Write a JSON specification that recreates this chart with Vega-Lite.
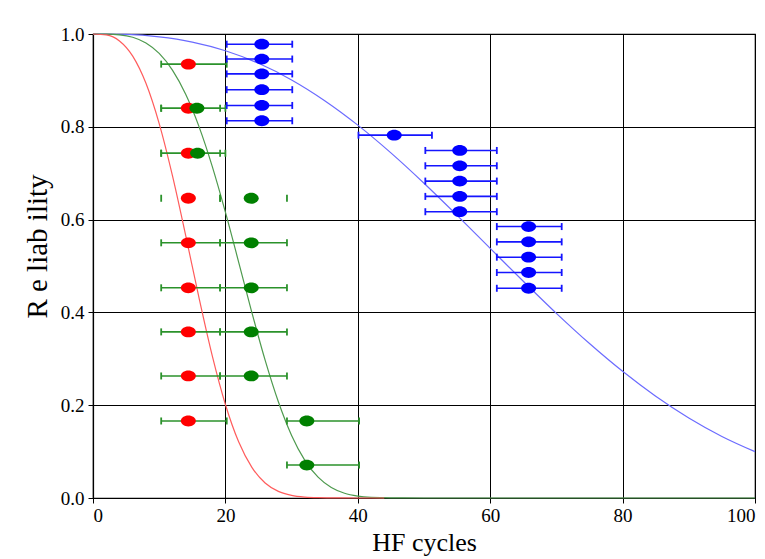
{
  "$schema": "https://vega.github.io/schema/vega-lite/v6.json",
  "width": 662,
  "height": 464,
  "autosize": {"type": "none"},
  "padding": {"left": 93, "top": 34, "right": 10, "bottom": 61},
  "background": "white",
  "config": {
    "font": "Liberation Serif",
    "view": {"stroke": "black", "strokeWidth": 1.2},
    "axis": {
      "gridColor": "black", "gridOpacity": 1, "gridWidth": 1,
      "domainColor": "black", "domainWidth": 1.2,
      "tickColor": "black", "tickWidth": 1,
      "labelFont": "Liberation Serif", "labelFontSize": 19, "labelColor": "black",
      "titleFont": "Liberation Serif", "titleFontSize": 26, "titleFontWeight": "normal", "titleColor": "black"
    }
  },
  "datasets": {
    "curves": [
      {"series": "blue", "x": 0, "r": 1}, {"series": "blue", "x": 5, "r": 0.999}, {"series": "blue", "x": 10, "r": 0.9938},
      {"series": "blue", "x": 15, "r": 0.9826}, {"series": "blue", "x": 20, "r": 0.9639}, {"series": "blue", "x": 25, "r": 0.9368},
      {"series": "blue", "x": 30, "r": 0.901}, {"series": "blue", "x": 35, "r": 0.8563}, {"series": "blue", "x": 40, "r": 0.8036},
      {"series": "blue", "x": 45, "r": 0.7438}, {"series": "blue", "x": 50, "r": 0.6784}, {"series": "blue", "x": 55, "r": 0.6092},
      {"series": "blue", "x": 60, "r": 0.538}, {"series": "blue", "x": 65, "r": 0.4671}, {"series": "blue", "x": 70, "r": 0.398},
      {"series": "blue", "x": 75, "r": 0.3329}, {"series": "blue", "x": 80, "r": 0.273}, {"series": "blue", "x": 85, "r": 0.2193},
      {"series": "blue", "x": 90, "r": 0.1725}, {"series": "blue", "x": 95, "r": 0.1327}, {"series": "blue", "x": 100, "r": 0.0999},
      {"series": "green", "x": 0, "r": 1}, {"series": "green", "x": 2, "r": 0.9998}, {"series": "green", "x": 4, "r": 0.9983},
      {"series": "green", "x": 6, "r": 0.9929}, {"series": "green", "x": 8, "r": 0.9806}, {"series": "green", "x": 10, "r": 0.9581},
      {"series": "green", "x": 12, "r": 0.9221}, {"series": "green", "x": 14, "r": 0.8701}, {"series": "green", "x": 16, "r": 0.801},
      {"series": "green", "x": 18, "r": 0.7153}, {"series": "green", "x": 20, "r": 0.616}, {"series": "green", "x": 22, "r": 0.5085},
      {"series": "green", "x": 24, "r": 0.3997}, {"series": "green", "x": 26, "r": 0.2971}, {"series": "green", "x": 28, "r": 0.2074},
      {"series": "green", "x": 30, "r": 0.1349}, {"series": "green", "x": 32, "r": 0.0812}, {"series": "green", "x": 34, "r": 0.0449},
      {"series": "green", "x": 36, "r": 0.0226}, {"series": "green", "x": 38, "r": 0.0102}, {"series": "green", "x": 40, "r": 0.0042},
      {"series": "green", "x": 42, "r": 0.0015}, {"series": "green", "x": 45, "r": 0.0003}, {"series": "green", "x": 50, "r": 0},
      {"series": "green", "x": 100, "r": 0},
      {"series": "red", "x": 0, "r": 1}, {"series": "red", "x": 2, "r": 0.998}, {"series": "red", "x": 4, "r": 0.9851},
      {"series": "red", "x": 6, "r": 0.9524}, {"series": "red", "x": 8, "r": 0.8938}, {"series": "red", "x": 10, "r": 0.8069},
      {"series": "red", "x": 12, "r": 0.6947}, {"series": "red", "x": 14, "r": 0.5659}, {"series": "red", "x": 16, "r": 0.4322},
      {"series": "red", "x": 18, "r": 0.3072}, {"series": "red", "x": 20, "r": 0.2015}, {"series": "red", "x": 22, "r": 0.121},
      {"series": "red", "x": 24, "r": 0.066}, {"series": "red", "x": 26, "r": 0.0324}, {"series": "red", "x": 28, "r": 0.0143},
      {"series": "red", "x": 30, "r": 0.0056}, {"series": "red", "x": 32, "r": 0.0019}, {"series": "red", "x": 34, "r": 0.0006},
      {"series": "red", "x": 37, "r": 0.0001}, {"series": "red", "x": 40, "r": 0}, {"series": "red", "x": 44, "r": 0}
    ],
    "bars": [
      {"set": "A", "y": 0.935, "x": 10.3, "x2": 20.2},
      {"set": "A", "y": 0.84, "x": 10.3, "x2": 19.2}, {"set": "A", "y": 0.84, "x": 10.3, "x2": 20.0},
      {"set": "A", "y": 0.743, "x": 10.3, "x2": 19.2}, {"set": "A", "y": 0.743, "x": 10.3, "x2": 20.0},
      {"set": "A", "y": 0.646, "x": 10.3, "x2": 19.2}, {"set": "A", "y": 0.646, "x": 19.2, "x2": 29.3},
      {"set": "A", "y": 0.55, "x": 10.3, "x2": 19.2}, {"set": "A", "y": 0.55, "x": 19.2, "x2": 29.3},
      {"set": "A", "y": 0.453, "x": 10.3, "x2": 19.2}, {"set": "A", "y": 0.453, "x": 19.2, "x2": 29.3},
      {"set": "A", "y": 0.358, "x": 10.3, "x2": 19.2}, {"set": "A", "y": 0.358, "x": 19.2, "x2": 29.3},
      {"set": "A", "y": 0.263, "x": 10.3, "x2": 19.2}, {"set": "A", "y": 0.263, "x": 19.2, "x2": 29.3},
      {"set": "A", "y": 0.166, "x": 10.3, "x2": 20.2}, {"set": "A", "y": 0.166, "x": 29.3, "x2": 40.2},
      {"set": "A", "y": 0.071, "x": 29.3, "x2": 40.2},
      {"set": "B", "y": 0.978, "x": 20.2, "x2": 30.1}, {"set": "B", "y": 0.946, "x": 20.2, "x2": 30.1},
      {"set": "B", "y": 0.914, "x": 20.2, "x2": 30.1}, {"set": "B", "y": 0.88, "x": 20.2, "x2": 30.1},
      {"set": "B", "y": 0.846, "x": 20.2, "x2": 30.1}, {"set": "B", "y": 0.813, "x": 20.2, "x2": 30.1},
      {"set": "B", "y": 0.782, "x": 40.1, "x2": 51.2},
      {"set": "B", "y": 0.749, "x": 50.2, "x2": 61.0}, {"set": "B", "y": 0.716, "x": 50.2, "x2": 61.0},
      {"set": "B", "y": 0.683, "x": 50.2, "x2": 61.0}, {"set": "B", "y": 0.65, "x": 50.2, "x2": 61.0},
      {"set": "B", "y": 0.617, "x": 50.2, "x2": 61.0},
      {"set": "B", "y": 0.585, "x": 61.0, "x2": 70.8}, {"set": "B", "y": 0.552, "x": 61.0, "x2": 70.8},
      {"set": "B", "y": 0.519, "x": 61.0, "x2": 70.8}, {"set": "B", "y": 0.486, "x": 61.0, "x2": 70.8},
      {"set": "B", "y": 0.452, "x": 61.0, "x2": 70.8}
    ],
    "points": [
      {"series": "green", "x": 15.7, "y": 0.84}, {"series": "green", "x": 15.8, "y": 0.743},
      {"series": "green", "x": 23.9, "y": 0.646}, {"series": "green", "x": 23.9, "y": 0.55},
      {"series": "green", "x": 23.9, "y": 0.453}, {"series": "green", "x": 23.9, "y": 0.358},
      {"series": "green", "x": 23.9, "y": 0.263}, {"series": "green", "x": 32.3, "y": 0.166},
      {"series": "green", "x": 32.3, "y": 0.071},
      {"series": "red", "x": 14.4, "y": 0.935}, {"series": "red", "x": 14.4, "y": 0.84},
      {"series": "red", "x": 14.4, "y": 0.743}, {"series": "red", "x": 14.4, "y": 0.646},
      {"series": "red", "x": 14.4, "y": 0.55}, {"series": "red", "x": 14.4, "y": 0.453},
      {"series": "red", "x": 14.4, "y": 0.358}, {"series": "red", "x": 14.4, "y": 0.263},
      {"series": "red", "x": 14.4, "y": 0.166},
      {"series": "blue", "x": 25.5, "y": 0.978}, {"series": "blue", "x": 25.5, "y": 0.946},
      {"series": "blue", "x": 25.5, "y": 0.914}, {"series": "blue", "x": 25.5, "y": 0.88},
      {"series": "blue", "x": 25.5, "y": 0.846}, {"series": "blue", "x": 25.5, "y": 0.813},
      {"series": "blue", "x": 45.5, "y": 0.782},
      {"series": "blue", "x": 55.4, "y": 0.749}, {"series": "blue", "x": 55.4, "y": 0.716},
      {"series": "blue", "x": 55.4, "y": 0.683}, {"series": "blue", "x": 55.4, "y": 0.65},
      {"series": "blue", "x": 55.4, "y": 0.617},
      {"series": "blue", "x": 65.8, "y": 0.585}, {"series": "blue", "x": 65.8, "y": 0.552},
      {"series": "blue", "x": 65.8, "y": 0.519}, {"series": "blue", "x": 65.8, "y": 0.486},
      {"series": "blue", "x": 65.8, "y": 0.452}
    ]
  },
  "layer": [
    {
      "data": {"name": "curves"},
      "transform": [{"filter": "datum.series == 'blue'"}],
      "mark": {"type": "line", "interpolate": "monotone", "color": "#6b6bff", "strokeWidth": 1.2},
      "encoding": {
        "x": {"field": "x", "type": "quantitative", "scale": {"domain": [0, 100], "nice": false, "zero": false},
              "axis": {"values": [0, 20, 40, 60, 80, 100], "title": "HF cycles", "grid": true, "tickSize": 5, "labelPadding": 3, "titlePadding": 4,
                       "labelFont": "Liberation Serif", "labelFontSize": 19, "titleFont": "Liberation Serif", "titleFontSize": 26}},
        "y": {"field": "r", "type": "quantitative", "scale": {"domain": [0, 1], "nice": false},
              "axis": {"values": [0, 0.2, 0.4, 0.6, 0.8, 1], "format": ".1f", "title": "R e liab ility", "grid": true, "tickSize": 5, "labelPadding": 4, "titlePadding": 8,
                       "titleY": 212,
                       "labelFont": "Liberation Serif", "labelFontSize": 19, "titleFont": "Liberation Serif", "titleFontSize": 29}}
      }
    },
    {
      "data": {"name": "curves"},
      "transform": [{"filter": "datum.series == 'green'"}],
      "mark": {"type": "line", "interpolate": "monotone", "color": "#4e9a4e", "strokeWidth": 1.2},
      "encoding": {
        "x": {"field": "x", "type": "quantitative", "title": "HF cycles"},
        "y": {"field": "r", "type": "quantitative", "title": "R e liab ility"}
      }
    },
    {
      "data": {"name": "curves"},
      "transform": [{"filter": "datum.series == 'red'"}],
      "mark": {"type": "line", "interpolate": "monotone", "color": "#ff5c5c", "strokeWidth": 1.2},
      "encoding": {
        "x": {"field": "x", "type": "quantitative", "title": "HF cycles"},
        "y": {"field": "r", "type": "quantitative", "title": "R e liab ility"}
      }
    },
    {
      "data": {"name": "bars"},
      "transform": [{"filter": "datum.y != 0.646"}],
      "mark": {"type": "rule", "strokeWidth": 1.6},
      "encoding": {
        "x": {"field": "x", "type": "quantitative", "title": "HF cycles"},
        "x2": {"field": "x2"},
        "y": {"field": "y", "type": "quantitative", "title": "R e liab ility"},
        "color": {"field": "set", "type": "nominal", "scale": {"domain": ["A", "B"], "range": ["#2b922b", "#1515ff"]}, "legend": null}
      }
    },
    {
      "data": {"name": "bars"},
      "transform": [{"fold": ["x", "x2"], "as": ["end", "cx"]}],
      "mark": {"type": "point", "shape": "M0,-1L0,1", "filled": false, "size": 49, "strokeWidth": 1.8, "opacity": 1},
      "encoding": {
        "x": {"field": "cx", "type": "quantitative", "title": "HF cycles"},
        "y": {"field": "y", "type": "quantitative", "title": "R e liab ility"},
        "color": {"field": "set", "type": "nominal", "legend": null}
      }
    },
    {
      "data": {"name": "points"},
      "mark": {"type": "point", "shape": "M-1,0A1,0.72,0,1,1,1,0A1,0.72,0,1,1,-1,0Z", "filled": true, "size": 225, "opacity": 1},
      "encoding": {
        "x": {"field": "x", "type": "quantitative", "title": "HF cycles"},
        "y": {"field": "y", "type": "quantitative", "title": "R e liab ility"},
        "fill": {"field": "series", "type": "nominal", "scale": {"domain": ["green", "red", "blue"], "range": ["#008000", "#ff0000", "#0000ff"]}, "legend": null},
        "order": {"field": "series", "sort": "descending"}
      }
    }
  ]
}
